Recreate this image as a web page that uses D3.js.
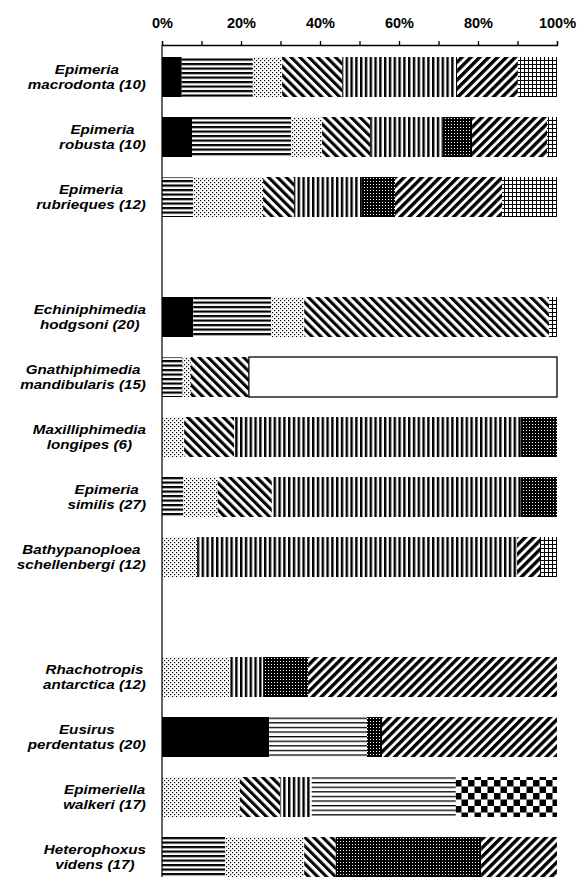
<!DOCTYPE html>
<html><head><meta charset="utf-8">
<script src="https://cdn.jsdelivr.net/npm/d3@7/dist/d3.min.js"></script>
<style>body{margin:0;background:#fff}svg{display:block}</style>
</head><body>
<svg id="c" width="579" height="877"></svg>
<script>
// ---- data ----
const genus   = ["Epimeria","Epimeria","Epimeria","Echiniphimedia","Gnathiphimedia","Maxilliphimedia","Epimeria","Bathypanoploea","Rhachotropis","Eusirus","Epimeriella","Heterophoxus"];
const species = ["macrodonta (10)","robusta (10)","rubrieques (12)","hodgsoni (20)","mandibularis (15)","longipes (6)","similis (27)","schellenbergi (12)","antarctica (12)","perdentatus (20)","walkeri (17)","videns (17)"];
// row order including two empty gap rows
const rowOrder = [0,1,2,"gap1",3,4,5,6,7,"gap2",8,9,10,11];
const tickValues = [0,10,20,30,40,50,60,70,80,90,100];
const tickLabels = ["0%","","20%","","40%","","60%","","80%","","100%"];
// series (percent of diet), stacked in this order
const solid     = [5,   7.6, 0,   7.9, 0,    0,    0,    0,   0,    27.1, 0,    0];
const hStripe   = [18,  25.1,7.9, 19.7,5.2,  0,    5.4,  0,   0,    0,    0,    16];
const lightDots = [7.4, 7.8, 17.7,8.4, 2.1,  5.6,  8.7,  8.9, 17,   0,    19.7, 20];
const backDiag  = [15.2,12.2,7.8, 62,  14.7, 12.7, 13.7, 0,   0,    0,    10.2, 8];
const vStripe   = [29.1,18.4,17.2,0,   0,    72.6, 63.1, 81,  8.6,  0,    8,    0];
const thinH     = [0,   0,   0,   0,   0,    0,    0,    0,   0,    24.8, 36.5, 0];
const darkDots  = [0,   7.4, 8.4, 0,   0,    9.1,  9.1,  0,   11.4, 3.8,  0,    36.8];
const fwdDiag   = [15.4,19,  27.1,0,   0,    0,    0,    5.8, 63,   44.3, 0,    19.2];
const grid      = [9.9, 2.5, 13.9,2,   0,    0,    0,    4.3, 0,    0,    0,    0];
const checker   = [0,   0,   0,   0,   0,    0,    0,    0,   0,    0,    25.6, 0];
const other     = [0,   0,   0,   0,   78,   0,    0,    0,   0,    0,    0,    0];

const seriesNames = ["solid","hStripe","lightDots","backDiag","vStripe","thinH","darkDots","fwdDiag","grid","checker","other"];
const seriesData = {solid,hStripe,lightDots,backDiag,vStripe,thinH,darkDots,fwdDiag,grid,checker,other};

const rows = genus.map((g,i)=>{const o={id:i}; seriesNames.forEach(k=>o[k]=seriesData[k][i]); return o;});

const svg = d3.select("#c");
const defs = svg.append("defs");

function pat(id,w,h,transform){
  const p = defs.append("pattern").attr("id",id).attr("patternUnits","userSpaceOnUse").attr("width",w).attr("height",h);
  if(transform) p.attr("patternTransform",transform);
  p.append("rect").attr("width",w).attr("height",h).attr("fill","#fff");
  return p;
}
let p;
p = pat("p-solid",4,4); p.select("rect").attr("fill","#000");
p = pat("p-hStripe",10,4.5); p.append("rect").attr("y",0).attr("width",10).attr("height",2.2).attr("fill","#000");
p = pat("p-thinH",10,4.6); p.append("rect").attr("y",0).attr("width",10).attr("height",1.3).attr("fill","#000");
p = pat("p-lightDots",4,4); p.append("rect").attr("x",0).attr("y",0).attr("width",1.2).attr("height",1.2).attr("fill","#000");
  p.append("rect").attr("x",2).attr("y",2).attr("width",1.2).attr("height",1.2).attr("fill","#000");
p = pat("p-backDiag",6.3,10,"rotate(-45)"); p.append("rect").attr("width",3.1).attr("height",10).attr("fill","#000");
p = pat("p-fwdDiag",6.3,10,"rotate(45)"); p.append("rect").attr("width",3.4).attr("height",10).attr("fill","#000");
p = pat("p-vStripe",4.8,10); p.append("rect").attr("width",2.4).attr("height",10).attr("fill","#000");
p = pat("p-darkDots",3,3); p.select("rect").attr("fill","#000");
  p.append("rect").attr("x",1).attr("y",1).attr("width",1).attr("height",1).attr("fill","#fff");
p = pat("p-grid",4,4); p.append("rect").attr("width",4).attr("height",1).attr("fill","#000");
  p.append("rect").attr("width",1).attr("height",4).attr("fill","#000");
p = pat("p-checker",13,13); p.append("rect").attr("width",6.5).attr("height",6.5).attr("fill","#000");
  p.append("rect").attr("x",6.5).attr("y",6.5).attr("width",6.5).attr("height",6.5).attr("fill","#000");
p = pat("p-other",4,4);

const x = d3.scaleLinear().domain([0,100]).range([162,557]);
const y = d3.scaleBand().domain(rowOrder.map(String)).range([47,887]).paddingInner(1/3).paddingOuter(1/6);

const stacked = d3.stack().keys(seriesNames)(rows);

const g = svg.append("g");
stacked.forEach(layer=>{
  g.selectAll(null).data(layer.filter(d=>d[1]-d[0]>0)).enter().append("rect")
    .attr("x",d=>x(d[0])).attr("width",d=>x(d[1])-x(d[0]))
    .attr("y",d=>y(String(d.data.id))).attr("height",y.bandwidth())
    .attr("fill",`url(#p-${layer.key})`)
    .attr("stroke",layer.key==="other"?"#000":"none")
    .attr("stroke-width",1.3);
});

// top axis
const axis = d3.axisTop(x).tickValues(tickValues).tickSize(4).tickPadding(13)
  .tickFormat((d,i)=>tickLabels[i]);
const ax = svg.append("g").attr("transform","translate(0,45)").call(axis);
ax.select(".domain").attr("stroke","#000").attr("stroke-width",1.3);
ax.selectAll(".tick line").attr("stroke","#000").attr("stroke-width",1.3);
ax.selectAll(".tick text").attr("font-family","'Liberation Sans',Arial,sans-serif")
  .attr("font-size",14.5).attr("font-weight","bold").attr("fill","#000");

// left vertical axis line
svg.append("line").attr("x1",162).attr("x2",162).attr("y1",45).attr("y2",877)
  .attr("stroke","#000").attr("stroke-width",1.2);

// category labels
const sx = 1.17;
genus.forEach((gn,i)=>{
  const cy = y(String(i)) + y.bandwidth()/2;
  const t = svg.append("text").attr("font-family","'Liberation Sans',Arial,sans-serif")
    .attr("font-size",13).attr("font-weight","bold").attr("font-style","italic")
    .attr("text-anchor","middle").attr("fill","#000");
  const t1 = t.append("tspan").attr("x",0).attr("y",-3.5).text(gn);
  const t2 = t.append("tspan").attr("x",0).attr("y",11.5).text(species[i]);
  const w = Math.max(t1.node().getComputedTextLength(), t2.node().getComputedTextLength())*sx;
  const cx = 146 - w/2;
  t.attr("transform",`translate(${cx},${cy}) scale(${sx},1)`);
});
</script>
</body></html>
